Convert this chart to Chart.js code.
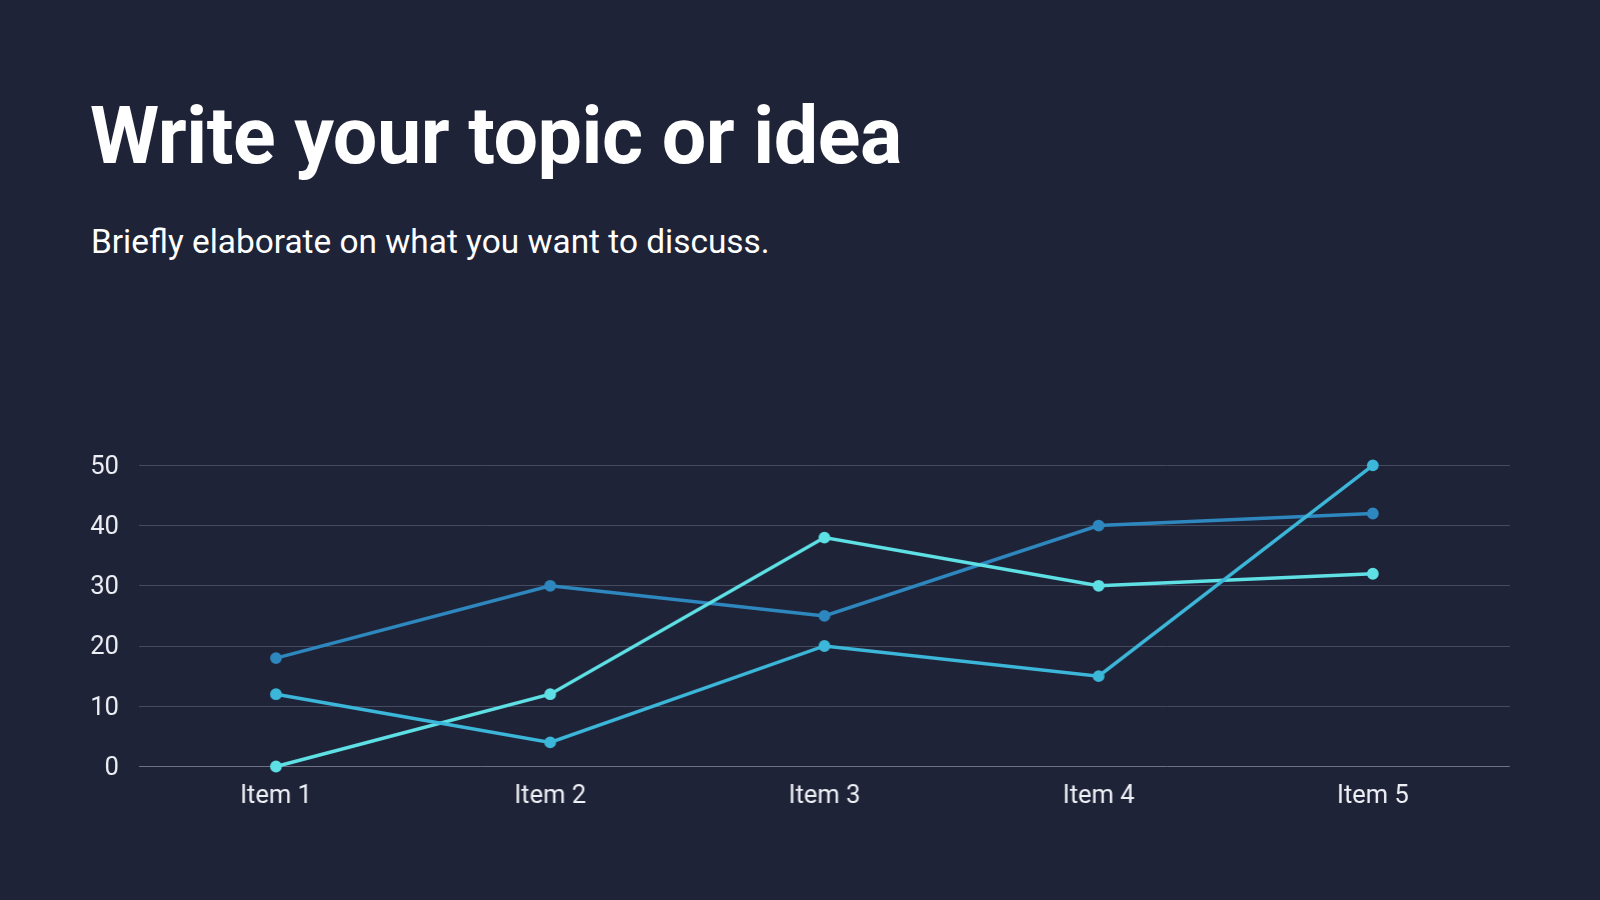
<!DOCTYPE html>
<html>
<head>
<meta charset="utf-8">
<script src="https://cdn.jsdelivr.net/npm/chart.js@4"></script>
<style>
  html, body { margin: 0; padding: 0; width: 1600px; height: 900px; background: #1e2337; overflow: hidden; font-family: Roboto, "Noto Sans", sans-serif; }
  h1 { position: absolute; left: 90px; top: 97px; margin: 0; font-size: 79px; font-weight: 700; color: #ffffff; line-height: 1; letter-spacing: -0.5px; }
  p.sub { position: absolute; left: 91px; top: 225px; margin: 0; font-size: 33.4px; font-weight: 400; color: #ffffff; line-height: 1; }
  #wrap { position: absolute; left: 60px; top: 429.8px; width: 1456.5px; height: 411.2px; }
</style>
</head>
<body>
<h1>Write your topic or idea</h1>
<p class="sub">Briefly elaborate on what you want to discuss.</p>
<div id="wrap"><canvas id="c"></canvas></div>
<script>
const categories = ["Item 1", "Item 2", "Item 3", "Item 4", "Item 5"];
const seriesA = [18, 30, 25, 40, 42];
const seriesB = [12, 4, 20, 15, 50];
const seriesC = [0, 12, 38, 30, 32];
const yTicks = [0, 10, 20, 30, 40, 50];

const colA = "#2e88bf";
const colB = "#3cb7da";
const colC = "#5ee0e5";

function ds(label, data, color) {
  return {
    label, data,
    borderColor: color, backgroundColor: color,
    pointBackgroundColor: color, pointBorderColor: color,
    borderWidth: 3.4, pointRadius: 4.2, pointHoverRadius: 4.2, tension: 0, fill: false,
    clip: false
  };
}

new Chart(document.getElementById("c"), {
  type: "line",
  data: {
    labels: categories,
    datasets: [ds("Series 2", seriesB, colB), ds("Series 3", seriesC, colC), ds("Series 1", seriesA, colA)]
  },
  options: {
    responsive: true,
    maintainAspectRatio: false,
    animation: false,
    layout: { padding: { top: 15.5, right: 0, left: 0, bottom: 0 } },
    plugins: { legend: { display: false }, tooltip: { enabled: false } },
    scales: {
      x: {
        offset: true,
        grid: { display: false, drawTicks: false },
        border: { display: false },
        ticks: { color: "#eef0f5", font: { family: "Roboto", size: 25.5 }, padding: 15 },
        afterFit(scale) { scale.height = 74.7; }
      },
      y: {
        min: 0, max: 50,
        afterBuildTicks(scale) { scale.ticks = yTicks.map(v => ({ value: v })); },
        grid: {
          drawTicks: false,
          color: (ctx) => ctx.tick && ctx.tick.value === 0 ? "#6d7284" : "#454b5f",
          lineWidth: 1
        },
        border: { display: false },
        ticks: { color: "#eef0f5", font: { family: "Roboto", size: 25.5 }, padding: 20, labelOffset: 2 },
        afterFit(scale) { scale.width = 78.8; }
      }
    }
  }
});
</script>
</body>
</html>
